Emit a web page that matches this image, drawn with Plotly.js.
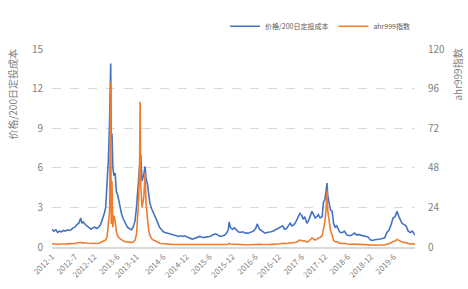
<!DOCTYPE html>
<html>
<head>
<meta charset="utf-8">
<script src="https://cdn.plot.ly/plotly-3.0.1.min.js"></script>
<style>html,body{margin:0;padding:0;background:#fff;}#chart{width:468px;height:289px;}</style>
</head>
<body>
<div id="chart"></div>
<script>
const dates = ["2012-01-01","2012-01-15","2012-02-01","2012-02-15","2012-03-01","2012-03-15","2012-04-01","2012-04-15","2012-05-01","2012-05-15","2012-06-01","2012-06-15","2012-07-01","2012-07-15","2012-08-01","2012-08-15","2012-08-25","2012-09-05","2012-09-20","2012-10-05","2012-10-20","2012-11-05","2012-11-20","2012-12-05","2012-12-20","2013-01-05","2013-01-20","2013-02-05","2013-02-20","2013-03-01","2013-03-12","2013-03-22","2013-04-01","2013-04-10","2013-04-14","2013-04-20","2013-04-27","2013-05-05","2013-05-15","2013-05-25","2013-06-05","2013-06-20","2013-07-05","2013-07-20","2013-08-05","2013-08-20","2013-09-05","2013-09-20","2013-10-05","2013-10-20","2013-11-01","2013-11-10","2013-11-18","2013-11-25","2013-11-29","2013-12-04","2013-12-14","2013-12-28","2014-01-07","2014-01-15","2014-01-25","2014-02-05","2014-02-15","2014-02-28","2014-03-15","2014-04-01","2014-04-15","2014-05-01","2014-05-15","2014-06-01","2014-06-15","2014-07-01","2014-07-15","2014-08-01","2014-08-15","2014-09-01","2014-09-15","2014-10-01","2014-10-15","2014-11-01","2014-11-15","2014-12-01","2014-12-15","2015-01-01","2015-01-15","2015-02-01","2015-02-15","2015-03-01","2015-03-15","2015-04-01","2015-04-15","2015-05-01","2015-05-15","2015-06-01","2015-06-15","2015-07-01","2015-07-15","2015-08-01","2015-08-15","2015-09-01","2015-09-15","2015-10-01","2015-10-15","2015-10-28","2015-11-04","2015-11-15","2015-12-01","2015-12-15","2016-01-01","2016-01-15","2016-02-01","2016-02-15","2016-03-01","2016-03-15","2016-04-01","2016-04-15","2016-05-01","2016-05-15","2016-06-01","2016-06-14","2016-07-01","2016-07-15","2016-08-01","2016-08-15","2016-09-01","2016-09-15","2016-10-01","2016-10-15","2016-11-01","2016-11-15","2016-12-01","2016-12-15","2017-01-01","2017-01-15","2017-02-01","2017-02-15","2017-03-01","2017-03-15","2017-04-01","2017-04-15","2017-05-01","2017-05-18","2017-06-01","2017-06-12","2017-06-25","2017-07-12","2017-07-25","2017-08-10","2017-08-21","2017-09-01","2017-09-15","2017-09-28","2017-10-10","2017-10-25","2017-11-10","2017-11-20","2017-12-01","2017-12-10","2017-12-18","2017-12-24","2018-01-05","2018-01-15","2018-01-28","2018-02-08","2018-02-20","2018-03-05","2018-03-20","2018-04-01","2018-04-20","2018-05-05","2018-05-25","2018-06-15","2018-07-01","2018-07-13","2018-07-25","2018-08-10","2018-08-25","2018-09-10","2018-10-01","2018-10-20","2018-11-10","2018-11-25","2018-12-15","2019-01-01","2019-01-20","2019-02-12","2019-03-01","2019-03-20","2019-04-07","2019-04-25","2019-05-10","2019-05-25","2019-06-10","2019-06-25","2019-07-10","2019-07-25","2019-08-04","2019-08-20","2019-09-05","2019-09-22","2019-10-10","2019-10-25","2019-11-05","2019-11-15"];

const priceRatio = [1.35,1.2,1.3,1.1,1.2,1.15,1.25,1.2,1.3,1.25,1.3,1.45,1.5,1.7,1.8,2.2,1.8,1.9,1.7,1.6,1.45,1.35,1.45,1.5,1.4,1.5,1.7,2.1,2.6,3.0,4.5,6.5,9.5,13.9,8.0,8.6,6.0,5.4,5.6,4.2,3.9,3.2,2.5,2.1,1.8,1.5,1.4,1.3,1.5,2.0,3.1,4.5,5.8,6.2,6.0,7.0,5.0,5.5,6.1,5.2,4.8,3.8,3.3,2.9,2.6,2.2,1.9,1.5,1.3,1.15,1.1,1.05,1.0,1.0,0.95,0.9,0.85,0.8,0.85,0.8,0.85,0.8,0.75,0.7,0.6,0.65,0.7,0.75,0.8,0.75,0.7,0.75,0.75,0.8,0.85,0.9,1.0,0.95,0.85,0.8,0.85,0.9,1.05,1.3,1.9,1.45,1.35,1.45,1.3,1.15,1.1,1.15,1.1,1.05,1.05,1.1,1.15,1.2,1.4,1.75,1.35,1.25,1.15,1.05,1.1,1.1,1.15,1.2,1.3,1.35,1.45,1.5,1.6,1.35,1.4,1.6,1.8,1.6,1.7,1.9,2.2,2.55,2.4,2.1,2.3,1.8,2.0,2.4,2.7,2.5,2.2,2.3,2.45,2.2,2.3,3.4,3.6,4.2,4.85,3.9,3.3,2.8,2.7,1.8,1.5,1.6,1.3,1.1,1.1,1.2,0.9,0.85,0.9,1.0,1.05,0.9,0.95,0.9,0.85,0.85,0.75,0.55,0.5,0.55,0.55,0.6,0.65,0.7,1.1,1.3,1.7,2.2,2.3,2.7,2.3,2.0,1.8,1.7,1.6,1.2,1.1,1.2,1.0,0.9];

const ahr999 = [2.0,1.8,1.9,1.7,1.8,1.7,1.8,1.8,1.9,1.9,2.0,2.1,2.2,2.4,2.5,2.9,2.5,2.6,2.4,2.3,2.2,2.1,2.2,2.2,2.1,2.3,2.7,3.2,3.6,4.2,6,14,22,100,14,40,12,19,16,9,6.5,5.2,4.2,3.6,3.2,3.0,2.9,2.8,3.0,4.2,8,17,30,52,88,38,24,30,45,26,18,10,7,5,4.2,3.4,2.9,2.4,2.1,1.9,1.8,1.7,1.6,1.6,1.5,1.5,1.4,1.4,1.4,1.3,1.4,1.3,1.3,1.2,1.1,1.1,1.2,1.2,1.3,1.2,1.2,1.2,1.2,1.3,1.3,1.4,1.5,1.4,1.3,1.3,1.3,1.4,1.5,1.7,2.2,1.8,1.7,1.8,1.7,1.5,1.5,1.5,1.5,1.4,1.4,1.5,1.5,1.6,1.7,2.0,1.7,1.6,1.5,1.5,1.5,1.5,1.6,1.6,1.7,1.8,1.9,2.0,2.3,2.0,2.1,2.3,2.6,2.4,2.5,2.9,3.5,4.2,4.0,3.6,3.8,3.0,3.4,4.5,5.5,5.0,4.2,4.6,5.5,5.8,7,11,15,22,34,22,16,10,7,4,3.2,3.3,2.6,2.2,2.1,2.3,1.8,1.6,1.7,1.8,1.9,1.6,1.6,1.5,1.5,1.4,1.3,1.1,1.0,1.1,1.1,1.2,1.2,1.3,1.7,2.0,2.6,3.4,3.6,4.6,3.8,3.2,3.0,2.8,2.5,2.0,1.8,1.9,1.7,1.6];

const tickDates = ["2012-01-01","2012-07-01","2012-12-01","2013-06-01","2013-11-01","2014-06-01","2014-12-01","2015-06-01","2015-12-01","2016-06-01","2016-12-01","2017-06-01","2017-12-01","2018-06-01","2018-12-01","2019-06-01"];
const tickLabels = ["2012-1","2012-7","2012-12","2013-6","2013-11","2014-6","2014-12","2015-6","2015-12","2016-6","2016-12","2017-6","2017-12","2018-6","2018-12","2019-6"];

const seriesNames = ["价格/200日定投成本","ahr999指数"];

const font = "Noto Sans CJK SC, Noto Sans, sans-serif";
const gray = "#7f7f7f";

const traces = [
  {x: dates, y: priceRatio, name: seriesNames[0], type: "scatter", mode: "lines",
   line: {color: "#4472C4", width: 1.6}, yaxis: "y"},
  {x: dates, y: ahr999, name: seriesNames[1], type: "scatter", mode: "lines",
   line: {color: "#ED7D31", width: 1.6}, yaxis: "y2"}
];

const layout = {
  width: 468, height: 289,
  margin: {l: 52, r: 53, t: 38, b: 42},
  paper_bgcolor: "#fff", plot_bgcolor: "#fff",
  font: {family: font, size: 9, color: gray},
  showlegend: true,
  legend: {orientation: "h", x: 1.0, xanchor: "right", y: 1.115, yanchor: "middle",
           font: {size: 7, color: "#595959"}, itemwidth: 30, tracegroupgap: 0},
  xaxis: {type: "date", range: [dates[0], dates[dates.length-1]],
          tickvals: tickDates, ticktext: tickLabels, tickangle: -45,
          showgrid: false, showline: true, linecolor: "#d9d9d9", linewidth: 2,
          ticks: "", tickfont: {size: 8, color: gray}, zeroline: false},
  yaxis: {range: [0, 15], dtick: 3, tick0: 0, showgrid: true, gridcolor: "#d9d9d9",
          griddash: "dash", gridwidth: 1, zeroline: false, showline: false,
          ticks: "outside", ticklen: 6, tickcolor: "rgba(0,0,0,0)",
          tickfont: {size: 10, color: gray}},
  yaxis2: {range: [0, 120], dtick: 24, tick0: 0, overlaying: "y", side: "right",
           showgrid: false, zeroline: false, showline: false,
           ticks: "outside", ticklen: 10, tickcolor: "rgba(0,0,0,0)",
           tickfont: {size: 10, color: gray}},
  annotations: [
    {text: seriesNames[0], xref: "paper", yref: "paper", x: -0.11, y: 0.77,
     textangle: -90, showarrow: false, font: {size: 10, color: gray},
     xanchor: "center", yanchor: "middle"},
    {text: seriesNames[1], xref: "paper", yref: "paper", x: 1.118, y: 0.87,
     textangle: -90, showarrow: false, font: {size: 10, color: gray},
     xanchor: "center", yanchor: "middle"}
  ]
};

Plotly.newPlot("chart", traces, layout, {displayModeBar: false, staticPlot: true});
</script>
</body>
</html>
